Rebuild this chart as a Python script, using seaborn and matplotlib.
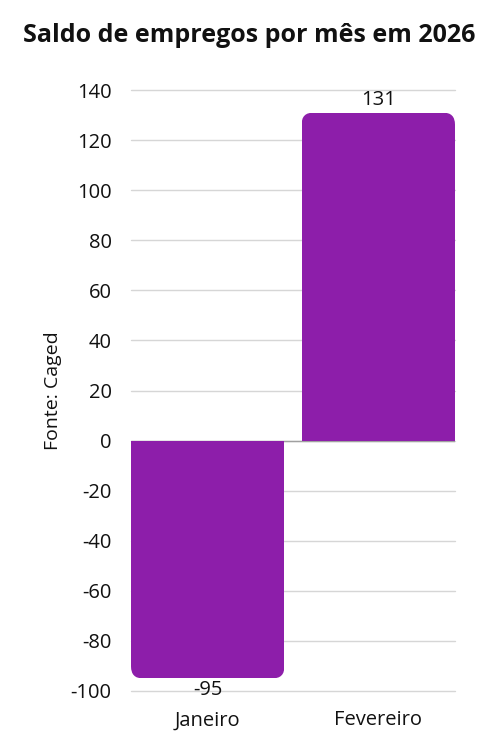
import pandas as pd
import seaborn as sns
import matplotlib.pyplot as plt
from matplotlib.patches import FancyBboxPatch, Rectangle

months = ["Janeiro", "Fevereiro"]
saldo = [-95, 131]
yticks = [-100, -80, -60, -40, -20, 0, 20, 40, 60, 80, 100, 120, 140]

BAR_COLOR = "#8D1EAA"

sns.set_theme(style="white")
plt.rcParams['font.family'] = ['Open Sans', 'DejaVu Sans']
plt.rcParams['axes.unicode_minus'] = False

df = pd.DataFrame({"mes": months, "saldo": saldo})

fig = plt.figure(figsize=(5.03, 7.54), dpi=100)
ax = fig.add_axes([131 / 503, 1 - 691 / 754, 324 / 503, 601 / 754])

sns.barplot(data=df, x="mes", y="saldo", color=BAR_COLOR, width=0.9,
            saturation=1, ax=ax, zorder=3)

ax.set_xlim(-0.45, 1.45)
ax.set_ylim(-100, 140)
ax.set_yticks(yticks)
ax.yaxis.grid(True, color="#d6d6d6", linewidth=1, zorder=0)
for gl in ax.get_ygridlines():
    gl.set_clip_on(False)
ax.axhline(0, color="#a0a0a0", linewidth=1, zorder=2)
for s in ax.spines.values():
    s.set_visible(False)
ax.tick_params(axis="both", length=0, labelsize=14.5, colors="#111111")
ax.tick_params(axis="y", pad=14)
ax.tick_params(axis="x", pad=14)
ax.set_xlabel("")
ax.set_ylabel("Fonte: Caged", fontsize=14, color="#111111", labelpad=6)

# rounded corners only on the end away from zero:
# draw a rounded box that runs past zero, then clip it at zero
fig.canvas.draw()
px_x = ax.transData.transform((1, 0))[0] - ax.transData.transform((0, 0))[0]
px_y = ax.transData.transform((0, 1))[1] - ax.transData.transform((0, 0))[1]
r_px = 12
r_x = r_px / px_x
r_y = r_px / px_y
for bar, val in zip(list(ax.patches), saldo):
    x0, w = bar.get_x(), bar.get_width()
    bar.remove()
    ext = 3 * r_y
    lo = min(0, val) if val < 0 else -ext
    hi = max(0, val) if val > 0 else ext
    box = FancyBboxPatch((x0, lo), w, hi - lo,
                         boxstyle=f"round,pad=0,rounding_size={r_x}",
                         mutation_aspect=r_y / r_x, facecolor=BAR_COLOR,
                         edgecolor="none", zorder=3)
    ax.add_patch(box)
    clip = Rectangle((x0, min(0, val)), w, abs(val), transform=ax.transData)
    box.set_clip_path(clip)
    off = 2 if val > 0 else -1
    ax.annotate(f"{val}", (x0 + w / 2, val), xytext=(0, off),
                textcoords="offset points", ha="center",
                va="bottom" if val > 0 else "top", fontsize=14.5,
                color="#111111", zorder=4)

fig.suptitle("Saldo de empregos por mês em 2026", fontsize=18,
             fontweight="bold", x=0.495, y=0.97, color="#111111")

fig.savefig("out.png", dpi=100)
